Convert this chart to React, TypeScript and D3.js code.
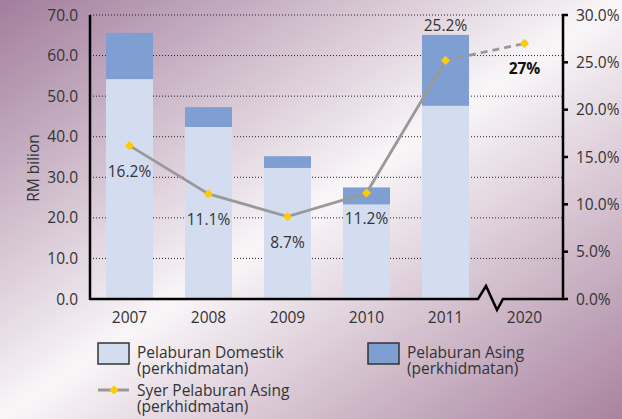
import React from 'react';
import * as d3 from 'd3';

// data
const years = ['2007', '2008', '2009', '2010', '2011', '2020'];
const domestik = [54.2, 42.4, 32.3, 23.3, 47.6];
const asing = [11.4, 4.9, 2.9, 4.2, 17.5];
const syer = [16.2, 11.1, 8.7, 11.2, 25.2, 27];
const syerLabels = ['16.2%', '11.1%', '8.7%', '11.2%', '25.2%', '27%'];
const leftTicks = [0, 10, 20, 30, 40, 50, 60, 70];
const rightTicks = [0, 5, 10, 15, 20, 25, 30];

const W = 622;
const H = 419;
const FONT = '"Open Sans", "Noto Sans", sans-serif';
const TXT = '#333';

export default function App() {
  // dimensoes
  const left = 90, right = 564, top = 15, bottom = 299;

  const x = d3.scaleBand<string>().domain(years).range([left, right]).paddingInner(0.405).paddingOuter(0.2025);
  const yL = d3.scaleLinear().domain([0, 70]).range([bottom, top]);
  const yR = d3.scaleLinear().domain([0, 30]).range([bottom, top]);
  const cx = (i: number) => (x(years[i]) as number) + x.bandwidth() / 2;

  const line = d3.line<number>().x((d, i) => cx(i)).y(d => yR(d));
  const solid = line(syer.slice(0, 5)) as string;
  const dashed = d3.line<number>().x((d, i) => cx(i + 4)).y(d => yR(d))(syer.slice(4)) as string;
  const diamond = d3.symbol().type(d3.symbolSquare).size(42)() as string;

  // quebra no eixo x
  const xb = x('2011')! + x.bandwidth() + 9;
  const brk = `M${left},${bottom}H${xb}l8,-13l11,24l6,-11H${right}`;

  return (
    <svg width={W} height={H} style={{ position: 'absolute', left: 0, top: 0, display: 'block' }} fontFamily={FONT}>
      <defs>
        <linearGradient id="bg" x1="0" y1="0" x2="1" y2="1">
          <stop offset="0" stopColor="#a27d9c" />
          <stop offset="0.5" stopColor="#f9f6f8" />
          <stop offset="1" stopColor="#a9839f" />
        </linearGradient>
      </defs>
      <rect width={W} height={H} fill="url(#bg)" />

      {/* grade */}
      {leftTicks.filter(t => t > 0).map(t => (
        <line key={t} x1={left} x2={right} y1={yL(t)} y2={yL(t)} stroke="#222" strokeWidth={1} strokeDasharray="1,2" />
      ))}

      {/* barras */}
      {domestik.map((d, i) => (
        <g key={years[i]}>
          <rect x={x(years[i])} width={x.bandwidth()} y={yL(d)} height={yL(0) - yL(d)} fill="#d4ddef" />
          <rect x={x(years[i])} width={x.bandwidth()} y={yL(d + asing[i])} height={yL(d) - yL(d + asing[i])} fill="#7f9fd3" />
        </g>
      ))}

      {/* eixos */}
      <line x1={left} x2={left} y1={top} y2={bottom + 1} stroke="#000" strokeWidth={2.5} />
      <line x1={right - 1} x2={right - 1} y1={top} y2={bottom + 1} stroke="#000" strokeWidth={2.5} />
      <path d={brk} fill="none" stroke="#000" strokeWidth={2.5} strokeLinejoin="miter" />
      {rightTicks.map(t => (
        <line key={t} x1={right - 2} x2={right + 4} y1={yR(t)} y2={yR(t)} stroke="#000" strokeWidth={2.5} />
      ))}

      {leftTicks.map(t => (
        <text key={t} x={78} y={yL(t)} dy="0.36em" textAnchor="end" fontSize={15.5} fill={TXT}>{d3.format('.1f')(t)}</text>
      ))}
      {rightTicks.map(t => (
        <text key={t} x={576} y={yR(t)} dy="0.36em" fontSize={15.5} fill={TXT}>{`${d3.format('.1f')(t)}%`}</text>
      ))}
      {years.map((yr, i) => (
        <text key={yr} x={cx(i)} y={323} textAnchor="middle" fontSize={15.5} fill={TXT}>{yr}</text>
      ))}
      <text transform="translate(39,168) rotate(-90)" textAnchor="middle" fontSize={15.5} fill={TXT}>RM bilion</text>

      {/* linha */}
      <path d={solid} fill="none" stroke="#999" strokeWidth={2.8} />
      <path d={dashed} fill="none" stroke="#999" strokeWidth={2.8} strokeDasharray="7,5" />
      {syer.map((v, i) => (
        <path key={i} d={diamond} transform={`translate(${cx(i)},${yR(v)}) rotate(45)`} fill="#ffcc00" />
      ))}
      {syer.map((v, i) => (
        <text key={i} x={cx(i)} y={i === 4 ? yL(domestik[4] + asing[4]) - 4 : yR(v) + 31}
          textAnchor="middle" fontSize={15.5} fill={i === 5 ? '#111' : TXT} fontWeight={i === 5 ? 700 : 400}>
          {syerLabels[i]}
        </text>
      ))}

      {/* legenda */}
      <rect x={98} y={343} width={31} height={21} fill="#d4ddef" stroke="#333" strokeWidth={1.5} />
      <text x={137} y={358} fontSize={15.5} fill={TXT}>Pelaburan Domestik</text>
      <text x={137} y={374} fontSize={15.5} fill={TXT}>(perkhidmatan)</text>
      <rect x={368} y={343} width={31} height={21} fill="#7f9fd3" stroke="#333" strokeWidth={1.5} />
      <text x={407} y={358} fontSize={15.5} fill={TXT}>Pelaburan Asing</text>
      <text x={407} y={374} fontSize={15.5} fill={TXT}>(perkhidmatan)</text>
      <line x1={98} x2={129} y1={390} y2={390} stroke="#999" strokeWidth={3} />
      <path d={diamond} transform="translate(114,390) rotate(45)" fill="#ffcc00" />
      <text x={137} y={396} fontSize={15.5} fill={TXT}>Syer Pelaburan Asing</text>
      <text x={137} y={412} fontSize={15.5} fill={TXT}>(perkhidmatan)</text>
    </svg>
  );
}
